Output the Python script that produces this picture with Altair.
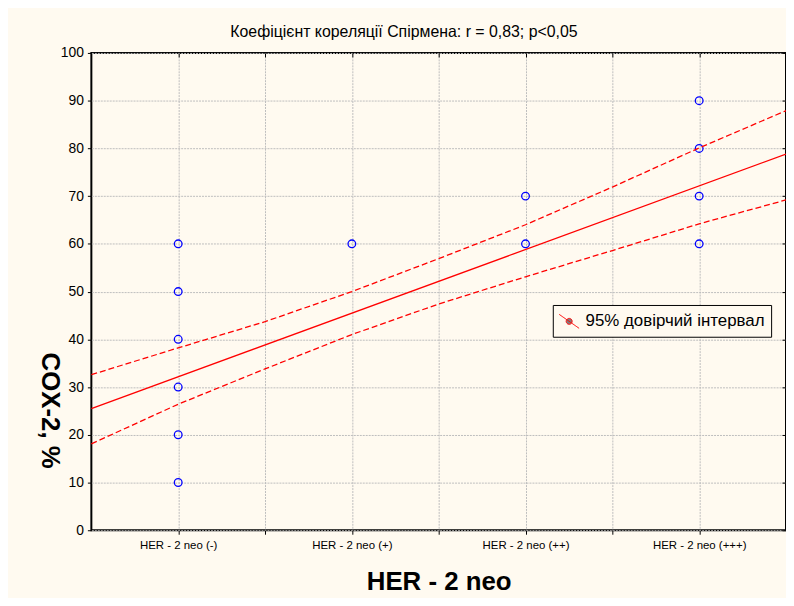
import altair as alt
import pandas as pd

# ---- data ----
categories = ["HER - 2 neo (-)", "HER - 2 neo (+)", "HER - 2 neo (++)", "HER - 2 neo (+++)"]
point_cat = ["HER - 2 neo (-)"] * 6 + ["HER - 2 neo (+)"] + ["HER - 2 neo (++)"] * 2 + ["HER - 2 neo (+++)"] * 4
point_val = [10, 20, 30, 40, 50, 60, 60, 60, 70, 60, 70, 80, 90]

fit_x = [0.5, 4.5]
fit_y = [25.5, 78.8]

ci_x = [0.5, 1, 1.5, 2, 2.5, 3, 3.5, 4, 4.5]
ci_upper = [32.6, 38.2, 43.7, 50.0, 56.9, 64.0, 71.9, 80.1, 87.9]
ci_lower = [18.1, 26.4, 33.8, 41.0, 47.4, 53.1, 58.6, 64.2, 69.2]

title_text = "Коефіцієнт кореляції Спірмена: r = 0,83; p<0,05"
ci_label = "95% довірчий інтервал"
x_title = "HER - 2 neo"
y_title = "COX-2, %"

# ---- tables ----
cat_index = {c: i + 1 for i, c in enumerate(categories)}
pts = pd.DataFrame({"x": [cat_index[c] for c in point_cat], "y": point_val})
fit = pd.DataFrame({"x": fit_x, "y": fit_y})
ci = pd.DataFrame({
    "x": ci_x + ci_x,
    "y": ci_upper + ci_lower,
    "band": ["upper"] * len(ci_x) + ["lower"] * len(ci_x),
    "label": [ci_label] * (2 * len(ci_x)),
})

FONT = "Liberation Sans"
BG = "#FFFAF0"
label_list = "[" + ",".join("'" + c + "'" for c in categories) + "]"
label_expr = f"datum.value % 1 == 0 ? {label_list}[datum.value - 1] : ''"

xscale = alt.Scale(domain=[0.5, 4.5], nice=False, zero=False)
yscale = alt.Scale(domain=[0, 100], nice=False)

x_axis = alt.Axis(
    title=x_title, values=[1, 1.5, 2, 2.5, 3, 3.5, 4], labelExpr=label_expr,
    labelFont=FONT, labelFontSize=11.5, labelColor="black",
    labelPadding=5, tickSize=4, tickColor="black", domain=False,
    grid=True, gridColor="#BDBDBD", gridDash=[2, 1],
    titleFont=FONT, titleFontSize=26, titleFontWeight="bold", titleColor="black",
    titlePadding=18,
)
y_axis = alt.Axis(
    title=y_title, values=list(range(0, 101, 10)),
    labelFont=FONT, labelFontSize=14, labelColor="black", labelPadding=4,
    tickSize=4, tickColor="black", domain=False,
    grid=True, gridColor="#BDBDBD", gridDash=[2, 1],
    titleFont=FONT, titleFontSize=26, titleFontWeight="bold", titleColor="black",
    titleAngle=90, titleX=-42, titleY=360, titleAlign="center", titleBaseline="middle",
)

points = alt.Chart(pts).mark_point(
    shape="circle", filled=False, color="#0000FF", size=60, strokeWidth=1.3, opacity=1
).encode(
    x=alt.X("x:Q", scale=xscale, axis=x_axis),
    y=alt.Y("y:Q", scale=yscale, axis=y_axis),
)

ci_lines = alt.Chart(ci).mark_line(strokeDash=[6, 3], strokeWidth=1.3).encode(
    x=alt.X("x:Q", scale=xscale, axis=None),
    y=alt.Y("y:Q", scale=yscale, axis=None),
    detail="band:N",
    color=alt.Color(
        "label:N",
        scale=alt.Scale(range=["#FF0000"]),
        legend=alt.Legend(
            title=None, orient="none", legendX=465, legendY=254,
            fillColor=BG, strokeColor="black", padding=6,
            labelFont=FONT, labelFontSize=17, labelColor="black", labelLimit=400,
            labelOffset=6,
            symbolType="M-1,-0.7L1,0.7M0.3,0A0.3,0.3 0 1 1 -0.3,0A0.3,0.3 0 1 1 0.3,0",
            symbolSize=400, symbolStrokeColor="#FF0000", symbolFillColor="#808080",
            symbolStrokeWidth=1, symbolDash=[1, 0],
        ),
    ),
)

fit_line = alt.Chart(fit).mark_line(color="#FF0000", strokeWidth=1.3).encode(
    x=alt.X("x:Q", scale=xscale, axis=alt.Axis(
        orient="top", values=[1, 1.5, 2, 2.5, 3, 3.5, 4], labels=False, title=None,
        domain=False, grid=False, tickSize=4, tickColor="black", offset=-4)),
    y=alt.Y("y:Q", scale=yscale, axis=alt.Axis(
        orient="right", values=list(range(0, 101, 10)), labels=False, title=None,
        domain=False, grid=False, tickSize=4, tickColor="black", offset=-4)),
)

chart = alt.layer(points, ci_lines, fit_line).resolve_axis(
    x="independent", y="independent"
).properties(
    width=700, height=481,
    autosize="none",
    padding={"left": 84, "top": 43, "right": 0, "bottom": 66},
    background=BG,
    title=alt.TitleParams(
        text=title_text, font=FONT, fontSize=16, fontWeight="normal", color="black",
        anchor="middle", frame="group", dx=-35, offset=6,
    ),
).configure_view(stroke="black", strokeWidth=2)

chart.save("out.html", embed_options={"renderer": "svg", "actions": False})
